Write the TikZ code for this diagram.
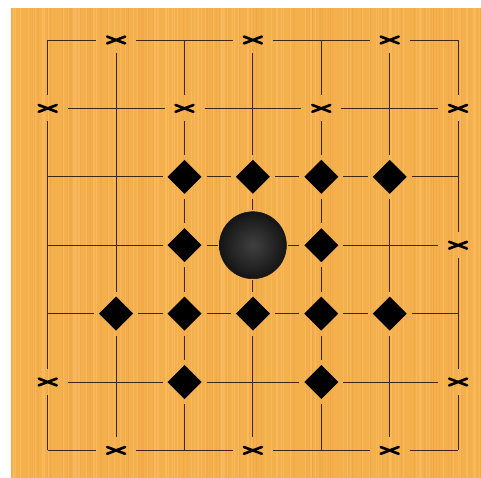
\documentclass[tikz,border=0pt]{standalone}
\usetikzlibrary{shapes.geometric}
\definecolor{wood}{RGB}{245,176,78}
\definecolor{woodlt}{RGB}{250,190,100}
\definecolor{wooddk}{RGB}{235,162,66}
\definecolor{gridc}{RGB}{60,40,20}
\tikzset{
  gridline/.style={draw=gridc, line width=0.9pt},
  xmark/.style={rectangle, minimum width=40pt, minimum height=26pt, inner sep=0pt, outer sep=0pt,
    path picture={
      \draw[black, line width=2.6pt, line cap=round]
        ([shift={(-9pt,-3.4pt)}]path picture bounding box.center) -- ([shift={(9pt,3.4pt)}]path picture bounding box.center)
        ([shift={(-9pt,3.4pt)}]path picture bounding box.center) -- ([shift={(9pt,-3.4pt)}]path picture bounding box.center);
    }},
  dmark/.style={diamond, minimum width=44pt, minimum height=44pt, inner sep=0pt, outer sep=0pt,
    path picture={
      \fill[black] ([xshift=-17pt]path picture bounding box.center) -- ([yshift=17pt]path picture bounding box.center)
        -- ([xshift=17pt]path picture bounding box.center) -- ([yshift=-17pt]path picture bounding box.center) -- cycle;
    }},
  stone/.style={circle, minimum size=67pt, inner sep=0pt, outer sep=1.5pt, draw=black!90, line width=0.6pt,
    shading=radial, inner color=black!75, outer color=black!92}
}
\begin{document}
\begin{tikzpicture}[x=1pt,y=-1pt]
\useasboundingbox (0,0) rectangle (481,478);
\fill[white] (0,0) rectangle (481,478);
\fill[wood] (11,8) rectangle (481,478);
% wood grain
\pgfmathsetseed{7}
\foreach \k in {1,...,220}{
  \pgfmathsetmacro{\xx}{11+470*rnd}
  \pgfmathsetmacro{\ww}{0.3+1.2*rnd}
  \pgfmathsetmacro{\cc}{rnd}
  \ifdim\cc pt<0.5pt
    \draw[woodlt, line width=\ww pt, opacity=0.6] (\xx,8) -- (\xx,478);
  \else
    \draw[wooddk, line width=\ww pt, opacity=0.4] (\xx,8) -- (\xx,478);
  \fi
}
% intersections
\foreach \i in {0,...,6}{
  \foreach \j in {0,...,6}{
    \coordinate (p-\i-\j) at ({47.7+68.4*\i},{40+68.4*\j});
  }
}
% markers
\foreach \i/\j in {1/0,3/0,5/0,0/1,2/1,4/1,6/1,6/3,0/5,6/5,1/6,3/6,5/6}{
  \node[xmark] (p-\i-\j) at ({47.7+68.4*\i},{40+68.4*\j}) {};
}
\foreach \i/\j in {2/2,3/2,4/2,5/2,2/3,4/3,1/4,2/4,3/4,4/4,5/4,2/5,4/5}{
  \node[dmark] (p-\i-\j) at ({47.7+68.4*\i},{40+68.4*\j}) {};
}
\node[stone] (p-3-3) at ({47.7+68.4*3},{40+68.4*3}) {};
% grid segments
\foreach \a in {0,...,5}{
  \pgfmathtruncatemacro{\b}{\a+1}
  \foreach \c in {0,...,6}{
    \draw[gridline] (p-\a-\c) -- (p-\b-\c);
    \draw[gridline] (p-\c-\a) -- (p-\c-\b);
  }
}
\end{tikzpicture}
\end{document}
